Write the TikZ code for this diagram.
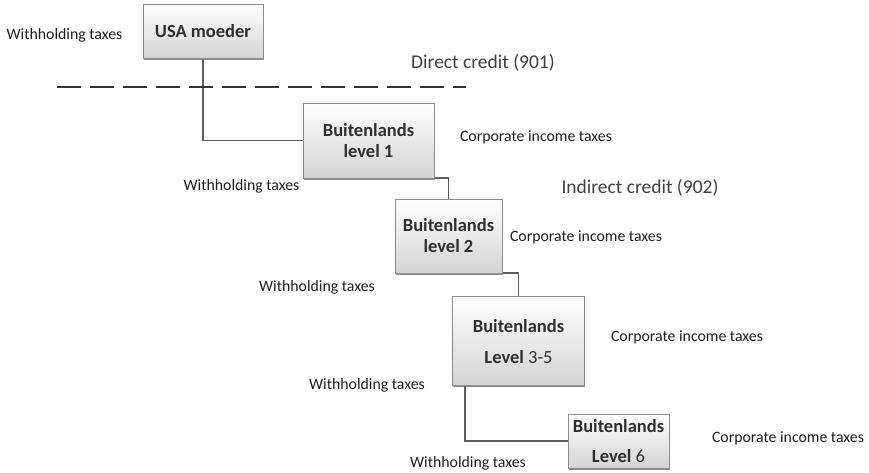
\documentclass[tikz,border=0pt]{standalone}
\usepackage{fontspec}
\setmainfont{Carlito}
\usetikzlibrary{shadows,backgrounds}
\definecolor{boxline}{HTML}{8C8C8C}
\definecolor{boxtext}{HTML}{2E2E2E}
\definecolor{linkline}{HTML}{5E5E5E}
\definecolor{labeltext}{HTML}{1E1E1E}
\tikzset{
  entity/.style={draw=boxline, line width=0.8pt, top color=white, bottom color=black!17,
    drop shadow={shadow xshift=0.8pt, shadow yshift=-1.6pt, fill=black!55, opacity=0.8},
    text=boxtext, font=\fontsize{18.5}{21}\selectfont\bfseries, align=center, inner sep=0pt},
  link/.style={draw=linkline, line width=1.9pt},
  taxlabel/.style={text=labeltext, font=\fontsize{15.8}{18}\selectfont, inner sep=0pt},
  creditlabel/.style={text=labeltext!85, font=\fontsize{19.5}{22}\selectfont, inner sep=0pt}
}
\begin{document}
\begin{tikzpicture}[x=1pt, y=-1pt]
\useasboundingbox (0,0) rectangle (869,473);

% ownership chain
\node[entity, minimum width=120pt, minimum height=54pt] (usa) at (203,31) {USA moeder};
\node[entity, minimum width=131pt, minimum height=75pt] (b1) at (368.5,140.5) {Buitenlands\\[0pt]level 1};
\node[entity, minimum width=107pt, minimum height=74pt] (b2) at (448.5,236) {Buitenlands\\[0pt]level 2};
\node[entity, minimum width=132pt, minimum height=89pt] (b3) at (518.5,341.3) {Buitenlands\\[10pt]Level {\mdseries 3-5}};
\node[entity, minimum width=101pt, minimum height=54pt] (b6) at (618.5,441) {Buitenlands\\[9pt]Level {\mdseries 6}};

\coordinate (b3out) at ([xshift=12.5pt]b3.south west);

% connectors, behind the boxes
\begin{scope}[on background layer]
\draw[link] (usa.south) |- (b1.west);
\draw[link] (b1.south) -| (b2.north);
\draw[link] (b2.south) -| (b3.north);
\draw[link] (b3out) |- (b6.west);
\end{scope}

% direct / indirect credit
\coordinate (dashL) at (57,87);
\coordinate (dashR) at (466,87);
\draw[draw=black!80, line width=1.3pt, dash pattern=on 24pt off 9pt] (dashL) -- (dashR);
\node[creditlabel] (direct) at (483,63) {Direct credit (901)};
\node[creditlabel] (indirect) at (640,188) {Indirect credit (902)};

% taxes
\node[taxlabel] (w0) at (64.5,35) {Withholding taxes};
\node[taxlabel] (w1) at (241.5,186) {Withholding taxes};
\node[taxlabel] (w2) at (317,287) {Withholding taxes};
\node[taxlabel] (w3) at (367,385) {Withholding taxes};
\node[taxlabel] (w6) at (468,463) {Withholding taxes};
\node[taxlabel] (c1) at (536,137) {Corporate income taxes};
\node[taxlabel] (c2) at (586,237) {Corporate income taxes};
\node[taxlabel] (c3) at (687,337) {Corporate income taxes};
\node[taxlabel] (c6) at (788,438) {Corporate income taxes};
\end{tikzpicture}
\end{document}
